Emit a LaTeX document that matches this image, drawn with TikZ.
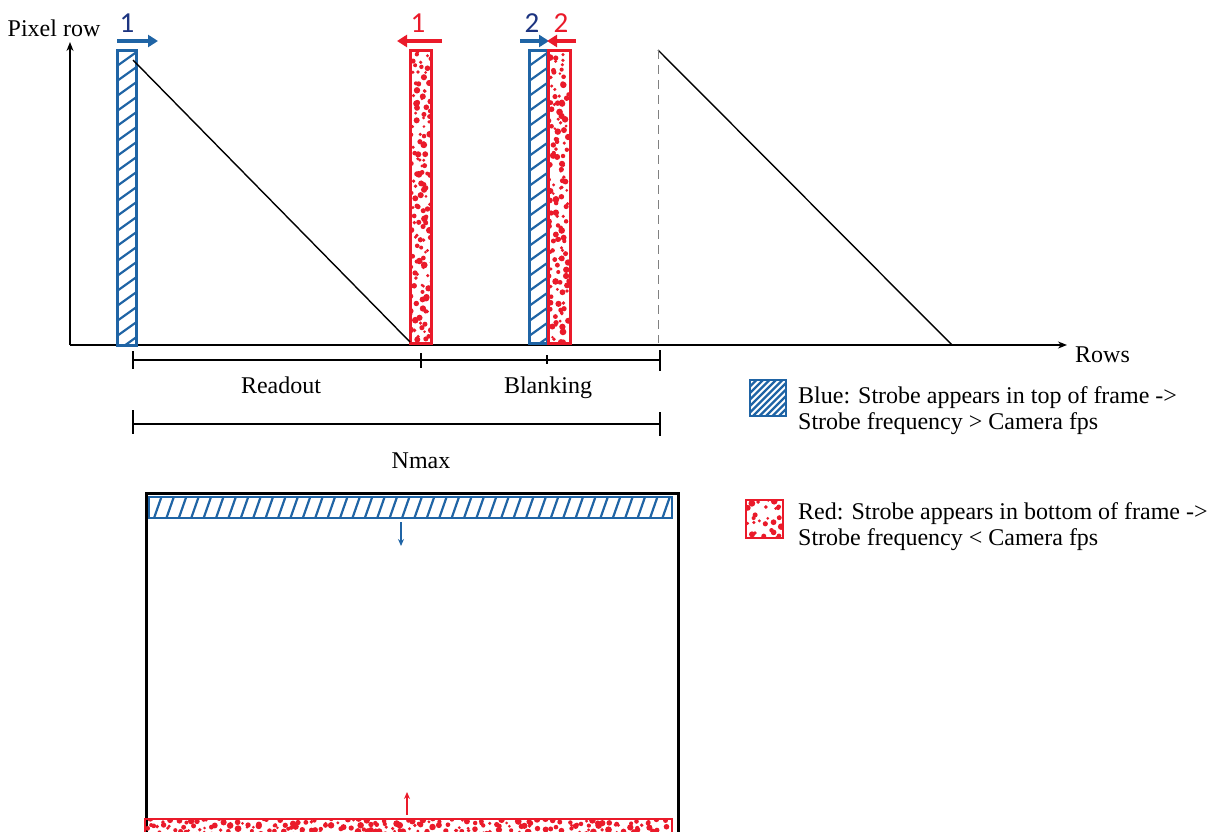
\documentclass[tikz,border=0pt]{standalone}
\usepackage{fontspec}
\setmainfont{Liberation Serif}
\newfontfamily\numfont{Carlito}
\usetikzlibrary{arrows.meta}
\definecolor{stripblue}{RGB}{31,100,165}
\definecolor{numblue}{RGB}{28,52,128}
\definecolor{stripred}{RGB}{234,26,42}

% diagonal hatching inside a rectangle: x1 y1 x2 y2 spacing run-per-height
\newcommand\hatchrect[6]{%
  \begin{scope}
    \clip (#1,#2) rectangle (#3,#4);
    \pgfmathsetmacro\hrun{(#4-#2)*#6}
    \pgfmathtruncatemacro\hn{(#3-#1+\hrun)/#5+1}
    \foreach \k in {0,...,\hn}{
      \pgfmathsetmacro\hx{#1-\hrun+\k*#5}
      \draw[hatchline] (\hx,#4) -- ++(\hrun,#2-#4);
    }
  \end{scope}}

% jittered grid of red dots inside a rectangle: x1 y1 x2 y2 cell
\newcommand\dotrect[5]{%
  \begin{scope}
    \clip (#1,#2) rectangle (#3,#4);
    \pgfmathtruncatemacro\dnx{(#3-#1)/#5-1}
    \pgfmathtruncatemacro\dny{(#4-#2)/#5}
    \foreach \i in {0,...,\dnx}{
      \foreach \j in {0,...,\dny}{
        \pgfmathsetmacro\dotx{#1+(\i+0.5+0.6*rand)*#5}
        \pgfmathsetmacro\doty{#2+(\j+0.5+0.6*rand)*#5}
        \pgfmathsetmacro\dotr{1.4+rnd*2.0}
        \fill[stripred] (\dotx,\doty) circle[radius=\dotr pt];
      }
    }
  \end{scope}}

\begin{document}
\begin{tikzpicture}[x=1pt,y=-1pt,
  hatchline/.style={stripblue,line width=2.2pt},
  blueedge/.style={draw=stripblue,line width=3pt},
  rededge/.style={draw=stripred,line width=3pt},
  axis/.style={black,line width=1.3pt,-{Stealth[length=9pt,width=7pt]}},
  dimline/.style={black,line width=1.6pt},
  plotline/.style={black,line width=1.4pt},
  movearrow/.style={line width=3.2pt,-{Triangle[length=10pt,width=12pt]}},
  framearrow/.style={line width=1.6pt,-{Stealth[length=7pt,width=6pt]}},
  lbl/.style={font=\fontsize{24}{28}\selectfont,inner sep=0pt},
  numlbl/.style={font=\numfont\fontsize{29}{32}\selectfont,inner sep=0pt}]
\useasboundingbox (0,0) rectangle (1215,832);
\pgfmathsetseed{11}

% axes
\coordinate (O) at (70,345);
\coordinate (ytop) at (70,42);
\coordinate (xend) at (1067,345);
\draw[axis] (O) -- (ytop);
\draw[axis] (O) -- (xend);
\node[lbl,anchor=base] (ylabel) at (54,37) {Pixel row};
\node[lbl,anchor=base west] (xlabel) at (1075,362) {Rows};

% strobe strips on the time axis
\fill[white] (117,51) rectangle (136,345);
\hatchrect{117}{51}{136}{345}{21}{1.4}
\draw[blueedge] (117,51) rectangle (136,345);
\coordinate (b1) at (127,51);

\fill[white] (410,51) rectangle (431,343);
\dotrect{411}{51}{431}{343}{6.5}
\draw[rededge] (410,51) rectangle (431,343);
\coordinate (r1) at (420,51);

\fill[white] (529,51) rectangle (547,343);
\hatchrect{529}{51}{547}{343}{21}{1.4}
\draw[blueedge] (529,51) rectangle (547,343);
\coordinate (b2) at (538,51);

\fill[white] (548,51) rectangle (570,343);
\dotrect{549}{51}{570}{343}{6.5}
\draw[rededge] (548,51) rectangle (570,343);
\coordinate (r2) at (559,51);

% readout ramps
\coordinate (ramp1top) at (133,60);
\coordinate (ramp1bot) at (410,342);
\draw[plotline] (ramp1top) -- (ramp1bot);
\coordinate (ramp2top) at (658,50);
\coordinate (ramp2bot) at (952,345);
\draw[plotline] (ramp2top) -- (ramp2bot);
\draw[gray,line width=1pt,dash pattern=on 9pt off 6pt] (ramp2top) -- (658,343);

% direction arrows and numbers above the strips
\draw[movearrow,stripblue] (117,41) -- (158,41);
\node[numlbl,numblue,anchor=base] (n1b) at (127,33) {1};
\draw[movearrow,stripred] (442,41) -- (397,41);
\node[numlbl,stripred,anchor=base] (n1r) at (418,33) {1};
\draw[movearrow,stripblue] (520,41) -- (549,41);
\node[numlbl,numblue,anchor=base] (n2b) at (532,33) {2};
\draw[movearrow,stripred] (576,41) -- (547,41);
\node[numlbl,stripred,anchor=base] (n2r) at (561,33) {2};

% dimension lines
\coordinate (d0) at (133,360);
\coordinate (d1) at (421,360);
\coordinate (d2) at (547,360);
\coordinate (d3) at (660,360);
\draw[dimline] (d0) -- (d3);
\draw[dimline] (133,351) -- (133,369);
\draw[dimline] (421,353) -- (421,368);
\draw[dimline] (547,355) -- (547,364);
\draw[dimline] (660,350) -- (660,371);
\node[lbl,anchor=base] (readout) at (281,393) {Readout};
\node[lbl,anchor=base] (blanking) at (548,393) {Blanking};

\coordinate (e0) at (133,424);
\coordinate (e1) at (660,424);
\draw[dimline] (e0) -- (e1);
\draw[dimline] (133,410) -- (133,434);
\draw[dimline] (660,412) -- (660,436);
\node[lbl,anchor=base] (nmax) at (421,468) {Nmax};

% image frame with strobe bands
\draw[black,line width=3pt] (146,840) -- (146,493) -- (678,493) -- (678,840);
\hatchrect{149}{497}{672}{518}{12.4}{0.35}
\draw[stripblue,line width=1.6pt] (149,497) rectangle (672,518);
\dotrect{145}{819}{672}{834}{6}
\draw[stripred,line width=1.6pt] (145,819) rectangle (672,840);
\coordinate (fb0) at (401,522);
\coordinate (fb1) at (401,546);
\draw[framearrow,stripblue] (fb0) -- (fb1);
\coordinate (fr0) at (407,815);
\coordinate (fr1) at (407,792);
\draw[framearrow,stripred] (fr0) -- (fr1);

% legend
\fill[white] (750,380) rectangle (786,416);
\hatchrect{750}{380}{786}{416}{6.5}{1}
\draw[stripblue,line width=1.8pt] (750,380) rectangle (786,416);
\node[lbl,anchor=base west] (legb1) at (798,403) {Blue: Strobe appears in top of frame ->};
\node[lbl,anchor=base west] (legb2) at (798,429) {Strobe frequency > Camera fps};

\dotrect{746}{500}{783}{538}{7.4}
\draw[stripred,line width=1.8pt] (746,500) rectangle (783,538);
\node[lbl,anchor=base west] (legr1) at (798,519) {Red: Strobe appears in bottom of frame ->};
\node[lbl,anchor=base west] (legr2) at (798,545) {Strobe frequency < Camera fps};
\end{tikzpicture}
\end{document}
